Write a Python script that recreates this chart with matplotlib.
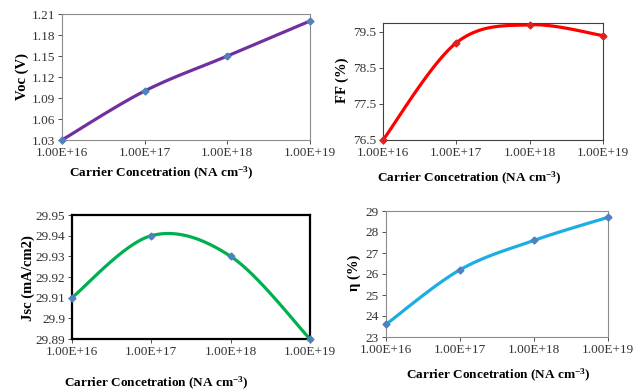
"""Four-panel device parameter plots vs carrier concentration."""

import matplotlib.pyplot as plt
import numpy as np

plt.rcParams["font.family"] = ["Liberation Serif", "DejaVu Serif"]
plt.rcParams["mathtext.fontset"] = "custom"
plt.rcParams["mathtext.rm"] = "Liberation Serif"
plt.rcParams["mathtext.bf"] = "Liberation Serif:bold"

concentration = ["1.00E+16", "1.00E+17", "1.00E+18", "1.00E+19"]
voc = [1.03, 1.10, 1.15, 1.20]
ff = [76.5, 79.2, 79.7, 79.4]
jsc = [29.91, 29.94, 29.93, 29.89]
eta = [23.6, 26.2, 27.6, 28.7]

voc_ticks = [1.03, 1.06, 1.09, 1.12, 1.15, 1.18, 1.21]
ff_ticks = [76.5, 77.5, 78.5, 79.5]
jsc_ticks = [29.89, 29.9, 29.91, 29.92, 29.93, 29.94, 29.95]
eta_ticks = [23, 24, 25, 26, 27, 28, 29]


def smooth(x, y, n=40):
    """Excel-like smoothed line: Catmull-Rom Bezier through the points."""
    p = np.column_stack([x, y]).astype(float)
    pts = [p[0]]
    for i in range(len(p) - 1):
        p0 = p[i - 1] if i > 0 else p[i]
        p3 = p[i + 2] if i + 2 < len(p) else p[i + 1]
        c1 = p[i] + (p[i + 1] - p0) / 6
        c2 = p[i + 1] - (p3 - p[i]) / 6
        t = np.linspace(0, 1, n)[1:, None]
        seg = ((1 - t) ** 3 * p[i] + 3 * (1 - t) ** 2 * t * c1
               + 3 * (1 - t) * t ** 2 * c2 + t ** 3 * p[i + 1])
        pts.extend(seg)
    pts = np.array(pts)
    return pts[:, 0], pts[:, 1]


W, H = 644, 391
fig = plt.figure(figsize=(W / 100, H / 100), dpi=100)


def panel(box, values, ticks, color, mcolor, ylabel, ylab_xy, xlab_xy,
          fmt, ytop=None, edge="#8c8c8c", edge_lw=0.8):
    l, t, r, b = box
    ax = fig.add_axes([l / W, 1 - b / H, (r - l) / W, (b - t) / H])
    x = np.arange(len(values))
    sx, sy = smooth(x, values)
    ax.plot(sx, sy, color=color, lw=2.3, zorder=2)
    ax.plot(x, values, "D", color=mcolor, ms=3.5, zorder=3, clip_on=False)
    ax.set_xlim(0, len(values) - 1)
    ax.set_ylim(ticks[0], ytop if ytop else ticks[-1])
    ax.set_yticks(ticks)
    ax.set_yticklabels([fmt(v) for v in ticks])
    ax.set_xticks(x)
    ax.set_xticklabels(concentration)
    ax.tick_params(labelsize=9.5, colors="#333333", length=3, width=0.6,
                   pad=2)
    for s in ax.spines.values():
        s.set_color(edge)
        s.set_linewidth(edge_lw)
    fig.text(ylab_xy[0] / W, 1 - ylab_xy[1] / H, ylabel, rotation=90,
             ha="center", va="center", fontsize=10.5, fontweight="bold")
    fig.text(xlab_xy[0] / W, 1 - xlab_xy[1] / H,
             r"Carrier Concetration (NA cm$\mathbf{^{-3}}$)",
             ha="center", va="center", fontsize=9.5, fontweight="bold")
    return ax


panel((62, 14, 310, 140), voc, voc_ticks, "#7030A0", "#4F81BD", "Voc (V)",
      (22, 77), (161, 173), lambda v: f"{v:.2f}")
panel((383, 23, 603, 140), ff, ff_ticks, "#FF0000", "#E02020", "FF (%)",
      (342, 80), (469, 178), lambda v: f"{v:.1f}", ytop=79.75,
      edge="#404040")
panel((72, 215, 310, 339), jsc, jsc_ticks, "#00B050", "#4F81BD",
      "Jsc (mA/cm2)", (28, 278), (156, 383), lambda v: f"{v:g}",
      edge="black", edge_lw=1.6)
panel((386, 211, 608, 337), eta, eta_ticks, "#1CADE4", "#4F81BD", "η (%)",
      (354, 273), (498, 375), lambda v: f"{v:g}")

fig.savefig("out.png", dpi=100)
